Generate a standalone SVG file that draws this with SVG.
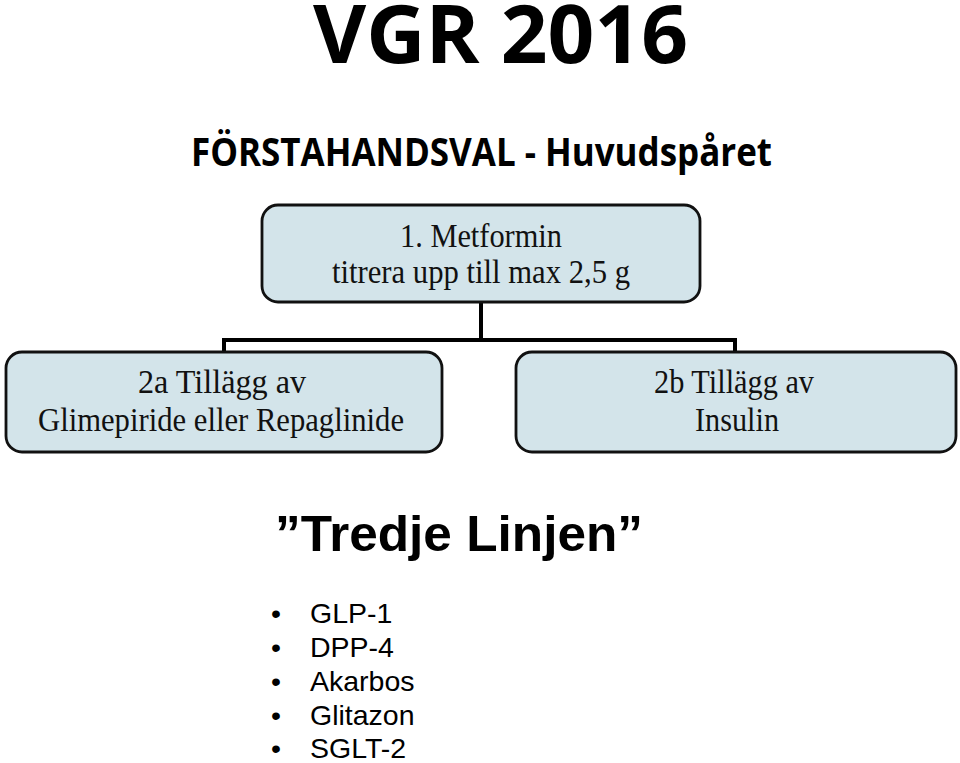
<svg xmlns="http://www.w3.org/2000/svg" width="960" height="763" viewBox="0 0 960 763">
<style>
.box{fill:#d3e4ea;stroke:#111;stroke-width:2.8}
.conn{fill:none;stroke:#000;stroke-width:4}
.bt{font-family:"Liberation Serif","Times New Roman",serif;font-size:34px;fill:#111;text-anchor:middle}
.head{font-family:"Open Sans","Noto Sans",sans-serif;font-weight:700;fill:#000}
.ar{font-family:"Liberation Sans",Arial,sans-serif;fill:#000}
</style>
<rect width="960" height="763" fill="#fff"/>
<text class="head" x="313" y="63" font-size="80" textLength="375" lengthAdjust="spacingAndGlyphs">VGR 2016</text>
<text class="head" x="191" y="166" font-size="39" textLength="581" lengthAdjust="spacingAndGlyphs">FÖRSTAHANDSVAL - Huvudspåret</text>
<g id="connectors">
<path class="conn" d="M481 302 V340 M224 352 V340 H735 V352"/>
</g>
<g id="node1">
<rect class="box" x="262" y="205" width="438" height="97" rx="16"/>
<text class="bt" x="481" y="247" textLength="162" lengthAdjust="spacingAndGlyphs">1. Metformin</text>
<text class="bt" x="481" y="283" textLength="298" lengthAdjust="spacingAndGlyphs">titrera upp till max 2,5 g</text>
</g>
<g id="node2a">
<rect class="box" x="6" y="352" width="436" height="100" rx="16"/>
<text class="bt" x="222" y="393" textLength="168" lengthAdjust="spacingAndGlyphs">2a Tillägg av</text>
<text class="bt" x="221" y="431" textLength="366" lengthAdjust="spacingAndGlyphs">Glimepiride eller Repaglinide</text>
</g>
<g id="node2b">
<rect class="box" x="516" y="352" width="440" height="100" rx="16"/>
<text class="bt" x="734" y="393" textLength="160" lengthAdjust="spacingAndGlyphs">2b Tillägg av</text>
<text class="bt" x="737" y="431" textLength="84" lengthAdjust="spacingAndGlyphs">Insulin</text>
</g>
<text class="ar" x="275" y="551" font-size="50" font-weight="700" textLength="368" lengthAdjust="spacingAndGlyphs">”Tredje Linjen”</text>
<g class="ar" font-size="28.5">
<text x="271" y="623">•</text><text x="310" y="623">GLP-1</text>
<text x="271" y="657">•</text><text x="310" y="657">DPP-4</text>
<text x="271" y="691">•</text><text x="310" y="691">Akarbos</text>
<text x="271" y="725">•</text><text x="310" y="725">Glitazon</text>
<text x="271" y="758">•</text><text x="310" y="758">SGLT-2</text>
</g>
</svg>
